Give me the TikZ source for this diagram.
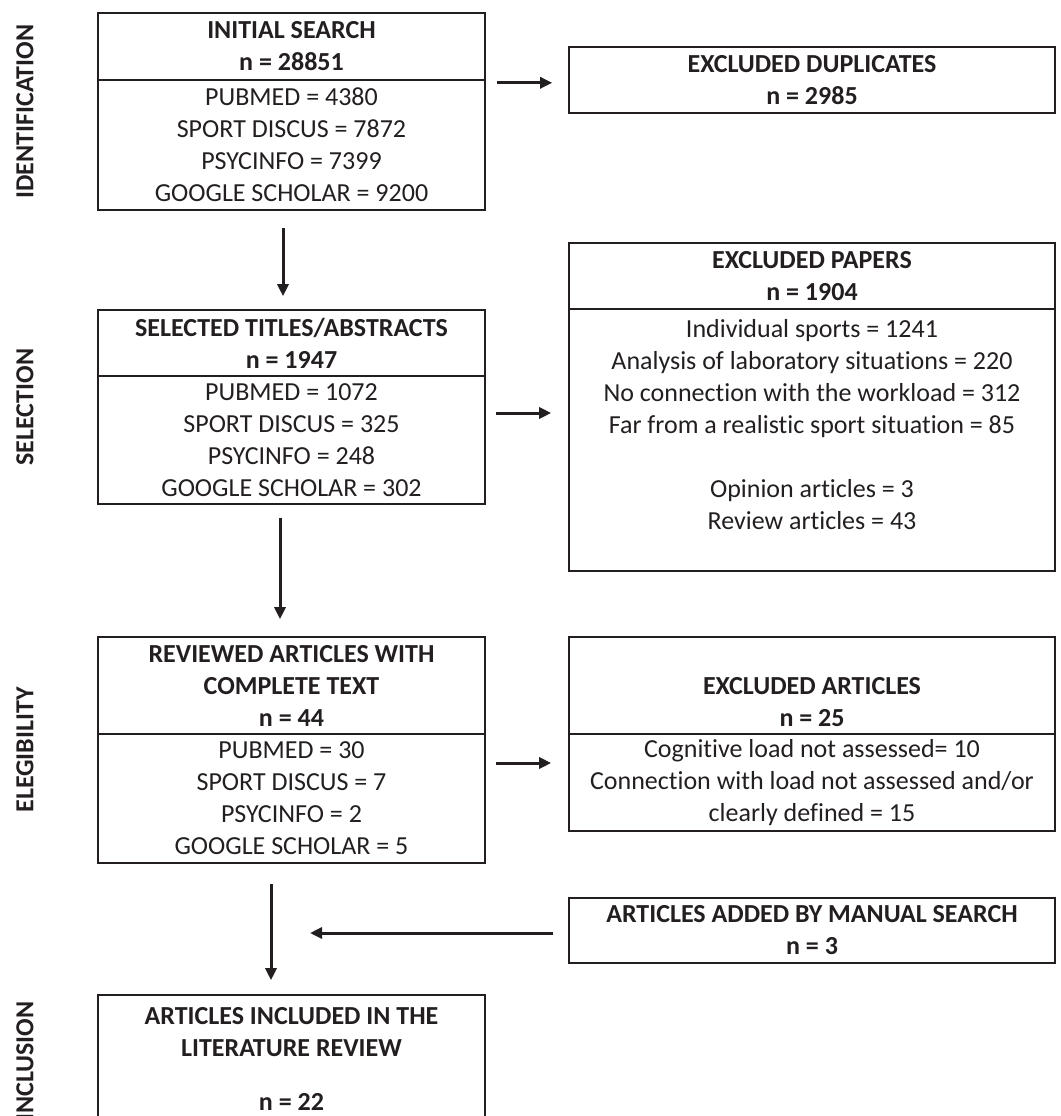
\documentclass[tikz,border=0pt]{standalone}
\usepackage{fontspec}
\setmainfont{Carlito}[Ligatures=NoCommon]
\usetikzlibrary{arrows.meta}
\definecolor{ink}{RGB}{35,31,32}
\begin{document}
\begin{tikzpicture}[x=1pt,y=-1pt,
  box/.style={draw=ink, text=ink, line width=1.6pt, inner sep=0pt, align=center, font=\fontsize{26}{32}\selectfont},
  lbox/.style={box, minimum width=387pt},
  rbox/.style={box, minimum width=486pt},
  hd/.style={font=\fontsize{26}{32}\selectfont\bfseries},
  arr/.style={draw=ink, line width=3pt, -{Triangle[length=12pt,width=11pt]}},
  side/.style={rotate=90, text=ink, inner sep=0pt, font=\fontsize{26}{32}\selectfont\bfseries}]
\useasboundingbox (0,0) rectangle (1060,1116);
\clip (0,0) rectangle (1060,1116);

% left column
\node[lbox,hd,minimum height=67pt] (init) at (291.5,46.5) {INITIAL SEARCH\\n = 28851};
\node[lbox,minimum height=130pt] (initlist) at (291.5,145) {PUBMED = 4380\\SPORT DISCUS = 7872\\PSYCINFO = 7399\\GOOGLE SCHOLAR = 9200};

\node[lbox,hd,minimum height=66pt] (sel) at (291.5,343) {SELECTED TITLES/ABSTRACTS\\n = 1947};
\node[lbox,minimum height=128pt] (sellist) at (291.5,440) {PUBMED = 1072\\SPORT DISCUS = 325\\PSYCINFO = 248\\GOOGLE SCHOLAR = 302};

\node[lbox,hd,minimum height=97pt] (rev) at (291.5,685.5) {REVIEWED ARTICLES WITH\\COMPLETE TEXT\\n = 44};
\node[lbox,minimum height=129pt] (revlist) at (291.5,798.5) {PUBMED = 30\\SPORT DISCUS = 7\\PSYCINFO = 2\\GOOGLE SCHOLAR = 5};

\node[lbox,hd,minimum height=128pt] (incl) at (291.5,1059) {ARTICLES INCLUDED IN THE\\LITERATURE REVIEW\\[22pt]n = 22};

% right column
\node[rbox,hd,minimum height=66pt] (dup) at (812,80) {EXCLUDED DUPLICATES\\n = 2985};

\node[rbox,hd,minimum height=66pt] (expap) at (812,276) {EXCLUDED PAPERS\\n = 1904};
\node[rbox,minimum height=262pt] (expaplist) at (812,440) {Individual sports = 1241\\Analysis of laboratory situations = 220\\No connection with the workload = 312\\Far from a realistic sport situation = 85\\[32pt]Opinion articles = 3\\Review articles = 43\\\mbox{}};

\node[rbox,hd,minimum height=97pt] (exart) at (812,685.5) {\rule{0pt}{18pt}\\EXCLUDED ARTICLES\\n = 25};
\node[rbox,minimum height=97pt] (exartlist) at (812,782.5) {Cognitive load not assessed= 10\\Connection with load not assessed and/or\\clearly defined = 15};

\node[rbox,hd,minimum height=65pt] (manual) at (812,930.5) {ARTICLES ADDED BY MANUAL SEARCH\\n = 3};

% side labels
\node[side] (lid) at (25,111.5) {IDENTIFICATION};
\node[side] (lsel) at (25,407) {SELECTION};
\node[side] (lel) at (25,750) {ELEGIBILITY};
\node[side] (lin) at (25,1061) {INCLUSION};

% connectors
\draw[arr] ([xshift=11pt,yshift=-2pt]init.south east) -- ([xshift=-16pt,yshift=-2pt]init.south east -| dup.west);
\draw[arr] ([xshift=-8.5pt,yshift=-17pt]initlist.south) -- ([xshift=-8.5pt,yshift=13pt]sel.north);
\draw[arr] ([xshift=10pt,yshift=27pt]sellist.east) -- ([xshift=-17pt,yshift=27pt]sellist.east -| expaplist.west);
\draw[arr] ([xshift=-11.5pt,yshift=-13pt]sellist.south) -- ([xshift=-11.5pt,yshift=17pt]rev.north);
\draw[arr] ([xshift=10pt,yshift=35.5pt]revlist.east) -- ([xshift=-17pt,yshift=35.5pt]revlist.east -| exartlist.west);
\draw[arr] ([xshift=-20.5pt,yshift=-20pt]revlist.south) -- ([xshift=-20.5pt,yshift=14pt]incl.north);
\coordinate (mjoin) at (310,933);
\draw[arr] ([xshift=-15pt]manual.west |- mjoin) -- (mjoin);
\end{tikzpicture}
\end{document}
